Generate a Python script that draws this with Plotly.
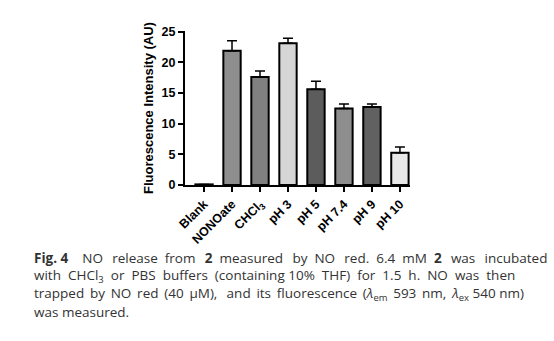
import plotly.graph_objects as go

categories = ["Blank", "NONOate", "CHCl<sub>3</sub>", "pH 3", "pH 5", "pH 7.4", "pH 9", "pH 10"]
values = [0.1, 21.9, 17.6, 23.1, 15.6, 12.45, 12.7, 5.25]
errors = [0.0, 1.6, 1.0, 0.8, 1.3, 0.75, 0.5, 0.95]
colors = ["#8c8c8c", "#8e8e8e", "#808080", "#d6d6d6", "#5c5c5c", "#8e8e8e", "#616161", "#e8e8e8"]
yticks = [0, 5, 10, 15, 20, 25]

x = list(range(len(categories)))
fig = go.Figure()
fig.add_trace(go.Bar(
    x=x, y=values, width=0.62,
    marker=dict(color=colors, line=dict(color="black", width=2)),
    error_y=dict(type="data", array=errors, arrayminus=[0]*len(errors), symmetric=False,
                 color="black", thickness=1.5, width=5),
))

fig.update_layout(
    width=554, height=341,
    margin=dict(l=185, r=144, t=31, b=156),
    plot_bgcolor="white", paper_bgcolor="white",
    showlegend=False,
    font=dict(family="Arial, Liberation Sans", color="black"),
    xaxis=dict(range=[-0.68, 7.36], tickmode="array", tickvals=x, ticktext=["<b>%s</b>" % c for c in categories],
               tickangle=-45, showline=True, linecolor="black", linewidth=2,
               ticks="outside", ticklen=5, tickwidth=2, tickcolor="black",
               tickfont=dict(size=12.5), showgrid=False, zeroline=False),
    yaxis=dict(range=[0, 25.1], tickmode="array", tickvals=yticks, ticktext=["<b>%d</b>" % t for t in yticks],
               showline=True, linecolor="black", linewidth=2,
               ticks="outside", ticklen=5, tickwidth=2, tickcolor="black",
               tickfont=dict(size=12.5), showgrid=False, zeroline=False,
               title=dict(text="<b>Fluorescence Intensity (AU)</b>", font=dict(size=13), standoff=5)),
)

NB = "\u00a0"
TH = "\u2009"


def justify(text, pads):
    words = text.split(" ")
    out = words[0]
    for i, w in enumerate(words[1:]):
        out += " " + (pads[i] if i < len(pads) else "") + w
    return out


line1 = "<b>Fig. 4</b>" + NB + NB + NB + " " + justify(
    "NO release from <b>2</b> measured by NO red. 6.4 mM <b>2</b> was incubated",
    [NB + TH, NB, NB + TH, NB, NB + TH, NB, NB + TH, NB, NB, NB, NB + TH, NB + TH])
line2 = justify("with CHCl<sub>3</sub> or PBS buffers (containing 10% THF) for 1.5 h. NO was then",
                [NB, NB, NB, NB, NB, "", NB, NB, NB, NB, NB, NB, NB])
line3 = justify("trapped by NO red (40 μM), and its fluorescence (<i>λ</i><sub>em</sub> 593 nm, <i>λ</i><sub>ex</sub> 540 nm)",
                [TH, TH, TH, TH, TH, NB + TH, TH, TH, TH, TH, TH, TH])
line4 = "was measured."

ys = [257.5, 275.5, 294, 312]
for text, yy in zip([line1, line2, line3, line4], ys):
    fig.add_annotation(text=text, xref="paper", yref="paper", x=(32 - 185) / 225, y=1 - (yy - 31) / 154,
                       xanchor="left", yanchor="middle", showarrow=False, align="left",
                       font=dict(family="Open Sans", size=13.5, color="#333333"))

fig.write_html("out.html")
